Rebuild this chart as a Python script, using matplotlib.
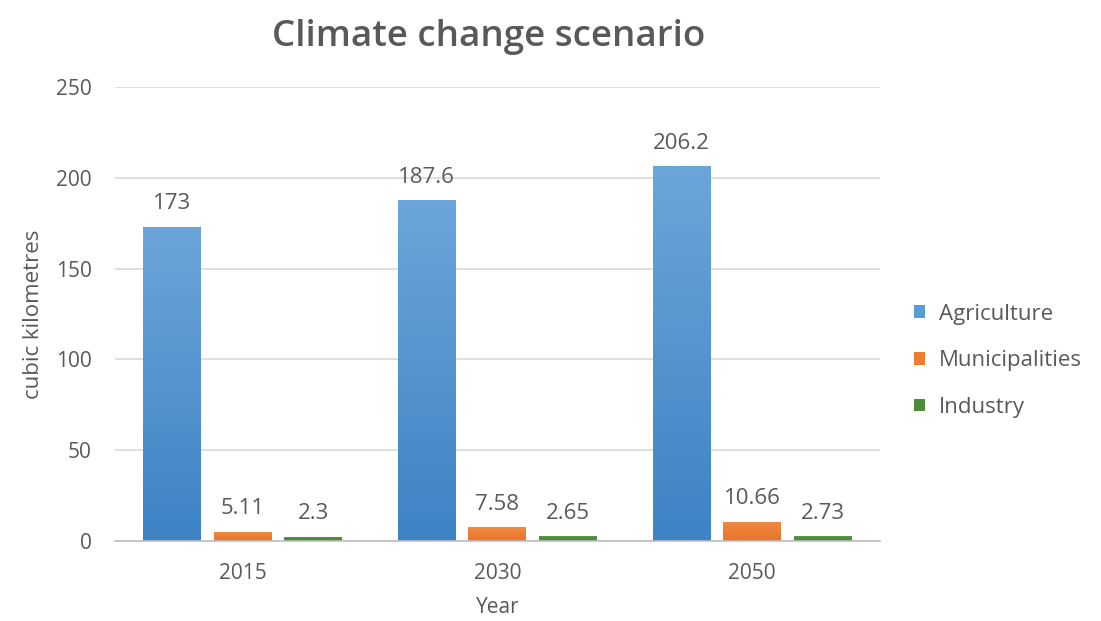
import numpy as np
import matplotlib.pyplot as plt
from matplotlib.colors import LinearSegmentedColormap

years = ["2015", "2030", "2050"]
sectors = ["Agriculture", "Municipalities", "Industry"]
agriculture = [173, 187.6, 206.2]
municipalities = [5.11, 7.58, 10.66]
industry = [2.3, 2.65, 2.73]
value_labels = [["173", "187.6", "206.2"],
                ["5.11", "7.58", "10.66"],
                ["2.3", "2.65", "2.73"]]

colors = ["#5b9bd5", "#ed7d31", "#4f8a3c"]
# top -> bottom shading for each series
shades = [("#6ca5da", "#3d83c5"), ("#f08a42", "#e8742a"), ("#5a9444", "#4a8236")]
text_color = "#595959"

plt.rcParams['font.family'] = ['Open Sans', 'DejaVu Sans']

fig = plt.figure(figsize=(11.01, 6.21), dpi=100)
ax = fig.add_axes([0.1045, 0.1288, 0.6945, 0.7312])

x = np.arange(len(years))
width = 0.227
step = 0.277
series = [agriculture, municipalities, industry]
grad = np.linspace(0, 1, 256).reshape(-1, 1)

for i, (name, vals) in enumerate(zip(sectors, series)):
    pos = x + (i - 1) * step
    bars = ax.bar(pos, vals, width, color=colors[i], label=name, zorder=3)
    cmap = LinearSegmentedColormap.from_list("shade%d" % i, [shades[i][1], shades[i][0]])
    for b, txt in zip(bars, value_labels[i]):
        x0 = b.get_x()
        h = b.get_height()
        im = ax.imshow(grad, extent=[x0, x0 + b.get_width(), 0, h], origin="lower",
                       aspect="auto", cmap=cmap, zorder=3.5)
        im.set_clip_path(b)
        ax.annotate(txt, (x0 + b.get_width() / 2, h),
                    xytext=(0, 9), textcoords="offset points",
                    ha="center", va="bottom", fontsize=16, color=text_color)

ax.set_xlim(-0.5, 2.5)
ax.set_ylim(0, 250)
ax.set_aspect("auto")
ax.set_yticks(np.arange(0, 251, 50))
ax.set_xticks(x)
ax.set_xticklabels(years)
ax.yaxis.grid(True, color="#d9d9d9", linewidth=1.2, zorder=0)
ax.set_axisbelow(True)
for s in ["top", "right", "left"]:
    ax.spines[s].set_visible(False)
ax.spines["bottom"].set_color("#bfbfbf")
ax.spines["bottom"].set_linewidth(1.2)
ax.spines["bottom"].set_zorder(4)
ax.tick_params(axis="both", length=0, labelsize=15, colors=text_color)
ax.tick_params(axis="x", pad=16)
ax.tick_params(axis="y", pad=17)

ax.set_xlabel("Year", fontsize=15, color=text_color, labelpad=9)
ax.set_ylabel("cubic kilometres", fontsize=16, color=text_color, labelpad=8)
fig.text(0.444, 0.94, "Climate change scenario", ha="center", va="center",
         fontsize=26.5, fontweight="semibold", color=text_color)

ax.legend(loc="center left", bbox_to_anchor=(1.045, 0.397), frameon=False,
          borderaxespad=0, borderpad=0,
          fontsize=16, labelcolor=text_color, handlelength=0.5, handleheight=0.5,
          handletextpad=0.6, labelspacing=1.15)

fig.savefig("out.png", dpi=100)
